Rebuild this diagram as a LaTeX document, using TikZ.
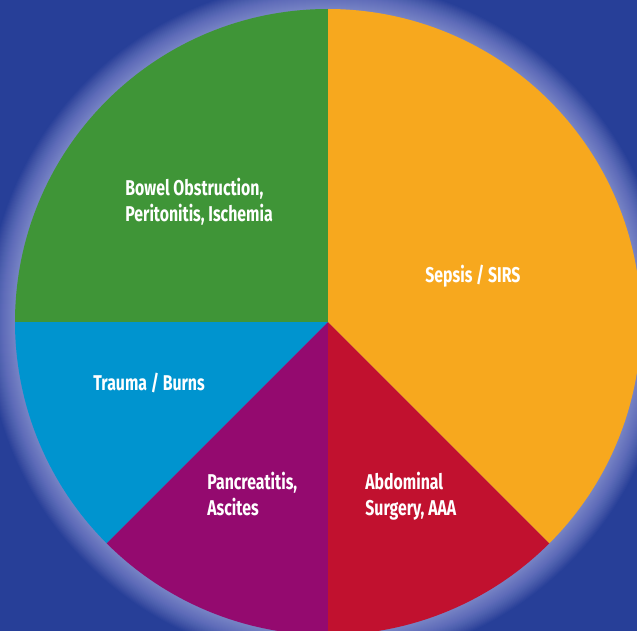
\documentclass[tikz,border=0pt]{standalone}
\usepackage{fontspec}
\setmainfont{Fira Sans}[FakeStretch=0.74]
\definecolor{BackBlue}{RGB}{39,63,152}
\definecolor{SliceGreen}{RGB}{63,149,55}
\definecolor{SliceOrange}{RGB}{247,168,30}
\definecolor{SliceRed}{RGB}{193,17,47}
\definecolor{SlicePurple}{RGB}{148,10,111}
\definecolor{SliceBlue}{RGB}{0,148,207}

\begin{document}
\begin{tikzpicture}[x=0.5pt,y=0.5pt,
  lbl/.style={text=white,font=\bfseries\fontsize{10.7}{12.8}\selectfont,align=left,inner sep=0pt}]

\useasboundingbox (0,0) rectangle (637,-631);
\clip (0,0) rectangle (637,-631);

% Background
\fill[BackBlue] (0,0) rectangle (637,-631);

\coordinate (c) at (328,-322);

% Soft glow round the pie
\foreach \r in {0,...,28}
  \fill[white!80!blue,opacity=0.028] (c) circle[radius=313+\r];

% Slices
\fill[SliceGreen] (c) -- ++(90:313) arc[start angle=90,end angle=180,radius=313] -- cycle;
\fill[SliceBlue] (c) -- ++(180:313) arc[start angle=180,end angle=225,radius=313] -- cycle;
\fill[SlicePurple] (c) -- ++(225:313) arc[start angle=225,end angle=270,radius=313] -- cycle;
\fill[SliceRed] (c) -- ++(270:313) arc[start angle=270,end angle=315,radius=313] -- cycle;
\fill[SliceOrange] (c) -- ++(-45:313) arc[start angle=-45,end angle=90,radius=313] -- cycle;

% Labels
\node[lbl,anchor=north west] (bowel) at (125,-178) {Bowel Obstruction,\\Peritonitis, Ischemia};
\node[lbl,anchor=base west] (sepsis) at (425,-282) {Sepsis / SIRS};
\node[lbl,anchor=base west] (trauma) at (93,-390) {Trauma / Burns};
\node[lbl,anchor=north west] (pancreas) at (207,-472) {Pancreatitis,\\Ascites};
\node[lbl,anchor=north west] (surgery) at (365,-472) {Abdominal\\Surgery, AAA};

\end{tikzpicture}
\end{document}
